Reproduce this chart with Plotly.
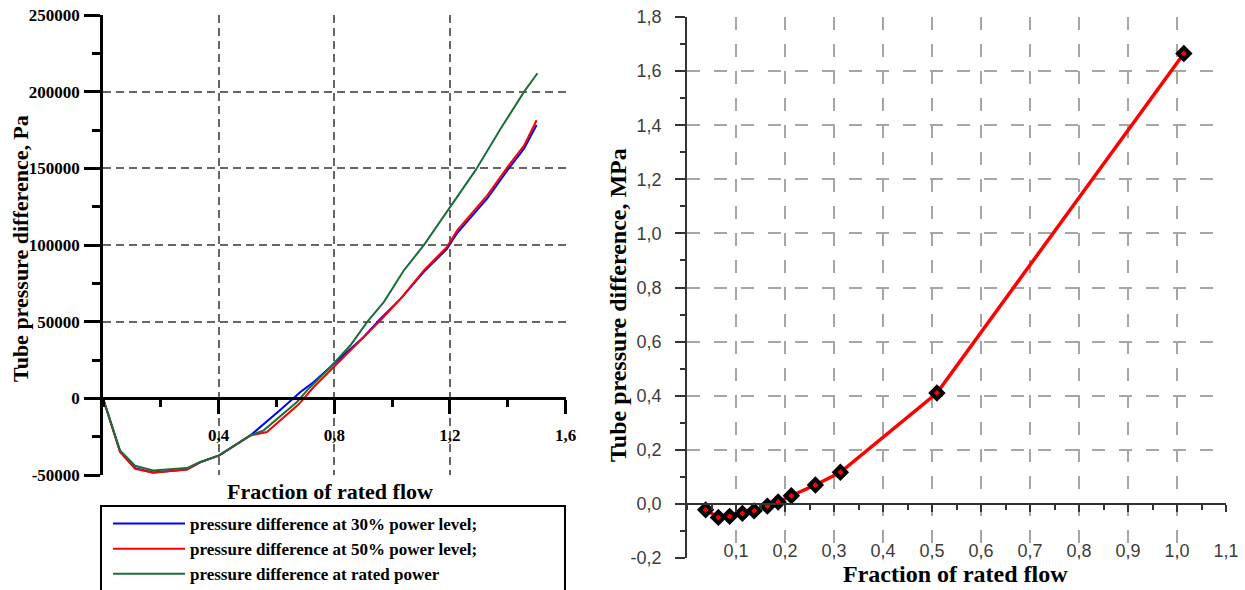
import plotly.graph_objects as go

# ---------------- data: left chart ----------------
flow_30 = [0, 0.059, 0.111, 0.173, 0.29, 0.336, 0.402, 0.51, 0.614, 0.683, 0.729, 0.787,
           0.856, 0.902, 0.96, 1.03, 1.11, 1.19, 1.226, 1.33, 1.4, 1.457, 1.5]
dp_30 = [0, -34600, -45500, -48300, -46500, -41800, -37200, -24200, -7400, 4100, 10600, 20400,
         32400, 40000, 52000, 65000, 82500, 97500, 108000, 130500, 149000, 163000, 178200]

flow_50 = [0, 0.059, 0.111, 0.173, 0.29, 0.336, 0.402, 0.51, 0.567, 0.677, 0.729, 0.787,
           0.856, 0.96, 1.03, 1.11, 1.19, 1.226, 1.33, 1.4, 1.457, 1.5]
dp_50 = [0, -35000, -46000, -48500, -46500, -41800, -37200, -24200, -22000, -3900, 7400, 18300,
         31300, 50900, 65000, 83500, 98800, 109700, 132500, 151000, 165000, 181400]

flow_rated = [0, 0.059, 0.111, 0.173, 0.29, 0.336, 0.402, 0.51, 0.556, 0.671, 0.706, 0.787,
              0.856, 0.914, 0.972, 1.041, 1.11, 1.203, 1.289, 1.376, 1.457, 1.503]
dp_rated = [0, -34000, -44000, -47000, -45500, -41500, -37200, -24200, -20900, -2400, 5200, 20400,
            34600, 49800, 62900, 83500, 99900, 124900, 148800, 176000, 200000, 212000]

series_names = ["pressure difference at 30% power level;",
                "pressure difference at 50% power level;",
                "pressure difference at rated power"]

left_x_ticks = [0.4, 0.8, 1.2, 1.6]
left_x_labels = ["0,4", "0,8", "1,2", "1,6"]
left_y_ticks = [-50000, 0, 50000, 100000, 150000, 200000, 250000]
left_y_labels = ["-50000", "0", "50000", "100000", "150000", "200000", "250000"]

# ---------------- data: right chart ----------------
flow_r = [0.038, 0.064, 0.087, 0.113, 0.137, 0.164, 0.186, 0.213, 0.262, 0.313, 0.510, 1.014]
dp_r = [-0.022, -0.05, -0.046, -0.035, -0.026, -0.008, 0.007, 0.03, 0.07, 0.117, 0.41, 1.665]

right_x_ticks = [0.1, 0.2, 0.3, 0.4, 0.5, 0.6, 0.7, 0.8, 0.9, 1.0, 1.1]
right_x_labels = ["0,1", "0,2", "0,3", "0,4", "0,5", "0,6", "0,7", "0,8", "0,9", "1,0", "1,1"]
right_y_ticks = [-0.2, 0.0, 0.2, 0.4, 0.6, 0.8, 1.0, 1.2, 1.4, 1.6, 1.8]
right_y_labels = ["-0,2", "0,0", "0,2", "0,4", "0,6", "0,8", "1,0", "1,2", "1,4", "1,6", "1,8"]

W, H = 1245, 590

def px_x(p):
    return p / W

def px_y(p):
    return 1 - p / H

# domains
lx_dom = [px_x(103), px_x(565.5)]
ly_dom = [px_y(475), px_y(15)]
rx_dom = [px_x(687), px_x(1226)]
ry_dom = [px_y(558), px_y(17)]

ly_range = [-50000, 250000]
ry_range = [-0.2, 1.8]
l_zero = ly_dom[0] + (0 - ly_range[0]) / (ly_range[1] - ly_range[0]) * (ly_dom[1] - ly_dom[0])
r_zero = ry_dom[0] + (0 - ry_range[0]) / (ry_range[1] - ry_range[0]) * (ry_dom[1] - ry_dom[0])

serif = "Liberation Serif"
sans = "Liberation Sans"

fig = go.Figure()
colors = ["#0000ff", "#ff0000", "#1a6e3a"]
for xs, ys, name, c in zip([flow_30, flow_50, flow_rated], [dp_30, dp_50, dp_rated], series_names, colors):
    fig.add_trace(go.Scatter(x=xs, y=ys, mode="lines", name=name,
                             line=dict(color=c, width=2), xaxis="x", yaxis="y"))

fig.add_trace(go.Scatter(x=flow_r, y=dp_r, mode="lines+markers", showlegend=False,
                         line=dict(color="#ff0000", width=3.5),
                         marker=dict(symbol="diamond", size=9, color="#ff0000",
                                     line=dict(color="black", width=4)),
                         xaxis="x2", yaxis="y2"))

left_grid = dict(gridcolor="#666666", gridwidth=1.5, griddash="8px,5px")
right_grid = dict(gridcolor="#a6a6a6", gridwidth=1.5, griddash="13px,14px")

fig.update_layout(
    width=W, height=H,
    margin=dict(l=0, r=0, t=0, b=0, autoexpand=False),
    paper_bgcolor="white", plot_bgcolor="white",
    showlegend=True,
    xaxis=dict(domain=lx_dom, range=[0, 1.6], anchor="free", position=l_zero,
               tickmode="array", tickvals=left_x_ticks, ticktext=left_x_labels,
               ticks="outside", ticklen=14, tickwidth=2.5, tickcolor="black",
               ticklabelstandoff=7,
               minor=dict(tickmode="linear", tick0=0, dtick=0.2, ticks="outside",
                          ticklen=7, tickwidth=2.5, tickcolor="black", showgrid=False),
               showline=True, linecolor="black", linewidth=2.5,
               zeroline=False, showgrid=True, **left_grid,
               tickfont=dict(family=serif, size=17, color="black", weight="bold"),
               automargin=False),
    yaxis=dict(domain=ly_dom, range=ly_range, anchor="x",
               tickmode="array", tickvals=left_y_ticks, ticktext=left_y_labels,
               ticks="outside", ticklen=16, tickwidth=2.5, tickcolor="black",
               ticklabelstandoff=1,
               minor=dict(tickmode="linear", tick0=0, dtick=25000, ticks="outside",
                          ticklen=8, tickwidth=2.5, tickcolor="black", showgrid=False),
               showline=True, linecolor="black", linewidth=2.5,
               zeroline=False, showgrid=True, **left_grid,
               tickfont=dict(family=serif, size=17, color="black", weight="bold"),
               automargin=False),
    xaxis2=dict(domain=rx_dom, range=[0, 1.1], anchor="free", position=r_zero,
                tickmode="array", tickvals=right_x_ticks, ticktext=right_x_labels,
                ticks="outside", ticklen=7, tickwidth=1.5, tickcolor="#333333",
                ticklabelstandoff=24,
                minor=dict(tickmode="linear", tick0=0, dtick=0.05, ticks="outside",
                           ticklen=5, tickwidth=1.5, tickcolor="#333333", showgrid=False),
                showline=True, linecolor="#333333", linewidth=1.5,
                zeroline=False, showgrid=True, **right_grid,
                tickfont=dict(family=sans, size=18, color="#3c3c3c"),
                automargin=False),
    yaxis2=dict(domain=ry_dom, range=ry_range, anchor="x2",
                tickmode="array", tickvals=right_y_ticks, ticktext=right_y_labels,
                ticks="outside", ticklen=10, tickwidth=1.5, tickcolor="#333333",
                ticklabelstandoff=10,
                minor=dict(tickmode="linear", tick0=0, dtick=0.1, ticks="outside",
                           ticklen=5, tickwidth=1.5, tickcolor="#333333", showgrid=False),
                showline=True, linecolor="#333333", linewidth=1.5,
                zeroline=False, showgrid=True, **right_grid,
                tickfont=dict(family=sans, size=18, color="#3c3c3c"),
                automargin=False),
    legend=dict(x=px_x(108), y=px_y(506), xanchor="left", yanchor="top",
                bgcolor="rgba(0,0,0,0)", borderwidth=0,
                font=dict(family=serif, size=17, color="black", weight="bold"),
                itemwidth=72, tracegroupgap=0),
)

# legend frame
fig.add_shape(type="rect", xref="paper", yref="paper",
              x0=px_x(101), x1=px_x(565), y0=px_y(595), y1=px_y(506),
              line=dict(color="black", width=2), fillcolor="rgba(0,0,0,0)", layer="above")

title_font_l = dict(family=serif, size=22, color="black", weight="bold")
title_font_r = dict(family=serif, size=24, color="black", weight="bold")
fig.add_annotation(text="Tube pressure difference, Pa", xref="paper", yref="paper",
                   x=px_x(20), y=px_y(249), textangle=-90, showarrow=False,
                   xanchor="center", yanchor="middle", font=title_font_l)
fig.add_annotation(text="Fraction of rated flow", xref="paper", yref="paper",
                   x=px_x(330), y=px_y(491), showarrow=False,
                   xanchor="center", yanchor="middle", font=title_font_l)
fig.add_annotation(text="Tube pressure difference, MPa", xref="paper", yref="paper",
                   x=px_x(618), y=px_y(305), textangle=-90, showarrow=False,
                   xanchor="center", yanchor="middle", font=title_font_r)
fig.add_annotation(text="Fraction of rated flow", xref="paper", yref="paper",
                   x=px_x(955), y=px_y(574), showarrow=False,
                   xanchor="center", yanchor="middle", font=title_font_r)

fig.write_html("out.html", config={"displayModeBar": False},
               post_script="document.body.style.margin='0';document.body.style.overflow='hidden';")
